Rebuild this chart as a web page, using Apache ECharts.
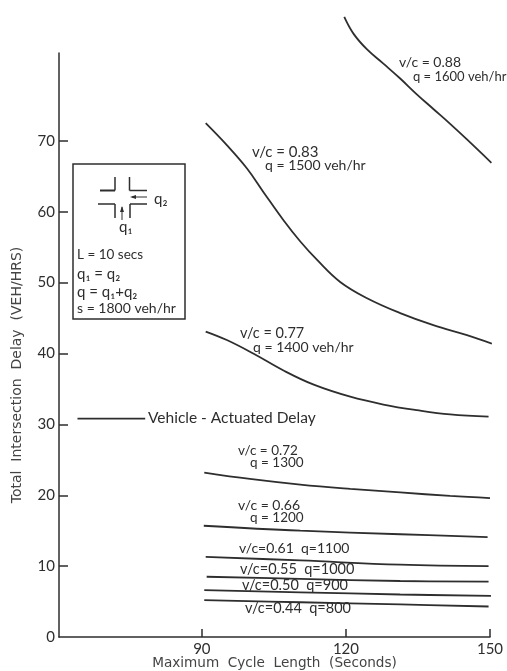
<!DOCTYPE html>
<html><head><meta charset="utf-8">
<style>html,body{margin:0;padding:0;background:#fff}#c{width:507px;height:671px}</style>
<script src="https://cdn.jsdelivr.net/npm/echarts@6/dist/echarts.min.js"></script></head>
<body><div id="c"></div>
<script>
const xTicks=[90,120,150];
const yTicks=[10,20,30,40,50,60,70];
const yLabels=[0,10,20,30,40,50,60,70];
const c088=[[119.65,87.5],[121.6,85.1],[124.4,82.9],[127.8,80.9],[131.3,78.8],[134.7,76.6],[138.2,74.5],[141.7,72.4],[145.2,70.2],[150.3,66.9]];
const c083=[[90.8,72.5],[95.2,69.4],[99.4,66.1],[102.8,62.8],[107,58.8],[110.5,55.8],[114,53.2],[118.8,50.1],[124.4,47.8],[131.3,45.7],[138.2,44],[145.2,42.6],[150.4,41.4]];
const c077=[[90.8,43.1],[95.2,41.9],[100.7,40],[107,37.6],[113.3,35.6],[120.9,33.9],[127.8,32.8],[134.8,32],[141.7,31.4],[149.7,31.1]];
const c072=[[90.5,23.2],[100,22.3],[110.5,21.5],[120.9,20.9],[131.3,20.4],[141.7,19.9],[150,19.6]];
const c066=[[90.4,15.7],[110.5,15],[131.3,14.5],[149.5,14.1]];
const c061=[[90.8,11.3],[110.5,10.8],[131.3,10.2],[149.7,10]];
const c055=[[91,8.5],[110.5,8.2],[131.3,7.9],[149.7,7.8]];
const c050=[[90.5,6.6],[110.5,6.3],[131.3,6],[150.2,5.8]];
const c044=[[90.5,5.2],[110.5,4.9],[131.3,4.6],[149.7,4.3]];
const actuated=[[64.1,30.8],[78.2,30.8]];
const curves=[c088,c083,c077,c072,c066,c061,c055,c050,c044,actuated];
const ink='#2e2e2e', F='Lato, "Open Sans", sans-serif', D='"DejaVu Sans", sans-serif';
const chart=echarts.init(document.getElementById('c'),null,{renderer:'canvas'});
const T=(x,y,text,size)=>({type:'text',x,y,silent:true,style:{text,fill:ink,font:(size||14)+'px '+F,textVerticalAlign:'middle'}});
const L=(x1,y1,x2,y2,w)=>({type:'line',silent:true,shape:{x1,y1,x2,y2},style:{stroke:ink,lineWidth:w||1.5}});
const notes=[
 T(399,62,'v/c = 0.88',14),T(413,77,'q = 1600 veh/hr',13),
 T(252,152,'v/c = 0.83',15),T(265,165,'q = 1500 veh/hr',14),
 T(240,333,'v/c = 0.77',14.5),T(253,347,'q = 1400 veh/hr',14),
 T(148,418,'Vehicle - Actuated Delay',15.5),
 T(238,451,'v/c = 0.72',13.5),T(250,463,'q = 1300',13.5),
 T(238,505,'v/c = 0.66',14),T(250,518,'q = 1200',13.5),
 T(239,548,'v/c=0.61  q=1100',14),
 T(240,569,'v/c=0.55  q=1000',14.5),
 T(242,585,'v/c=0.50  q=900',14.5),
 T(245,608,'v/c=0.44  q=800',14.5),
 {type:'rect',silent:true,shape:{x:73,y:164,width:112,height:155},style:{fill:'#fff',stroke:ink,lineWidth:1.5}},
 L(100,190.5,115,190.5,2),L(115,190.5,115,177,1.5),L(129.5,177,129.5,190.5,1.5),L(129.5,190.5,147,190.5,1.5),
 L(98,204,115,204,1.5),L(115,204,115,218,1.5),L(130,218,130,204,1.5),L(130,204,147,204,1.5),
 L(132,197,147,197,1),L(122,220,122,207,1),
 {type:'polygon',silent:true,shape:{points:[[130,197],[136,195],[136,199]]},style:{fill:ink}},
 {type:'polygon',silent:true,shape:{points:[[122,206],[120,212],[124,212]]},style:{fill:ink}},
 T(154,199,'q₂',15),T(119,227,'q₁',15),
 T(77,255,'L = 10 secs',13.5),T(77,274,'q₁ = q₂',15),T(77,292,'q = q₁+q₂',15),T(77,308,'s = 1800 veh/hr',14)
];
chart.setOption({
 animation:false,backgroundColor:'#fff',
 grid:{left:59,right:17,top:53,bottom:34,containLabel:false,outerBoundsMode:'none'},
 xAxis:{type:'value',min:60.25,max:150,
  name:'Maximum  Cycle  Length  (Seconds)',nameLocation:'middle',nameGap:19,nameMoveOverlap:false,
  nameTextStyle:{color:'#444',fontSize:13.6,fontFamily:D},
  axisLine:{lineStyle:{color:ink,width:1.5}},
  axisTick:{show:true,inside:true,length:8,lineStyle:{color:ink,width:1.5},customValues:xTicks},
  axisLabel:{color:ink,fontSize:15,fontFamily:F,margin:5,customValues:xTicks,showMaxLabel:true},
  splitLine:{show:false}},
 yAxis:{type:'value',min:0,max:82.4,
  name:'Total  Intersection  Delay  (VEH/HRS)',nameLocation:'middle',nameGap:35,nameMoveOverlap:false,
  nameTextStyle:{color:'#444',fontSize:14,fontFamily:D,padding:[0,60,0,0]},
  axisLine:{lineStyle:{color:ink,width:1.5}},
  axisTick:{show:true,inside:true,length:9,lineStyle:{color:ink,width:1.5},customValues:yTicks},
  axisLabel:{color:ink,fontSize:15,fontFamily:F,margin:4,customValues:yLabels},
  splitLine:{show:false}},
 series:curves.map(d=>({type:'line',data:d,smooth:0.4,symbol:'none',clip:false,silent:true,lineStyle:{color:ink,width:1.8}})),
 graphic:notes
});
</script></body></html>
